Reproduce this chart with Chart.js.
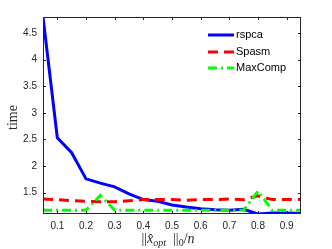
<!DOCTYPE html>
<html>
<head>
<meta charset="utf-8">
<script src="https://cdn.jsdelivr.net/npm/chart.js@4"></script>
<style>
  html, body { margin: 0; padding: 0; background: #fff; }
  #wrap { width: 332px; height: 249px; }
</style>
</head>
<body>
<div id="wrap"><canvas id="chart" width="332" height="249"></canvas></div>
<script>
const sparsity = [0.05, 0.1, 0.15, 0.2, 0.25, 0.3, 0.35, 0.4, 0.45, 0.5, 0.55, 0.6, 0.65, 0.7, 0.75, 0.8, 0.85, 0.9, 0.95];
const rspca   = [4.8, 2.53, 2.25, 1.76, 1.68, 1.61, 1.48, 1.37, 1.34, 1.27, 1.23, 1.2, 1.18, 1.17, 1.19, 1.1, 1.12, 1.12, 1.11];
const spasm   = [1.38, 1.37, 1.35, 1.34, 1.33, 1.33, 1.35, 1.37, 1.37, 1.37, 1.36, 1.37, 1.37, 1.38, 1.37, 1.44, 1.37, 1.37, 1.37];
const maxComp = [1.17, 1.17, 1.17, 1.17, 1.45, 1.17, 1.17, 1.17, 1.17, 1.17, 1.17, 1.17, 1.17, 1.17, 1.17, 1.53, 1.17, 1.17, 1.17];
const xTicks = [0.1, 0.2, 0.3, 0.4, 0.5, 0.6, 0.7, 0.8, 0.9];
const yTicks = [1.5, 2, 2.5, 3, 3.5, 4, 4.5];

const axisColor = '#262626';

// box + inward tick marks, MATLAB style
const boxPlugin = {
    id: 'boxPlugin',
    afterDraw: (chart) => {
        const { ctx, chartArea: { top, bottom, left, right }, scales: { x, y } } = chart;
        ctx.save();
        ctx.strokeStyle = axisColor;
        ctx.lineWidth = 1;
        ctx.strokeRect(left + 0.5, top + 0.5, right - left - 1, bottom - top - 1);
        ctx.beginPath();
        xTicks.forEach(v => {
            const px = Math.round(x.getPixelForValue(v)) + 0.5;
            ctx.moveTo(px, bottom); ctx.lineTo(px, bottom - 3);
            ctx.moveTo(px, top); ctx.lineTo(px, top + 3);
        });
        yTicks.forEach(v => {
            const py = Math.round(y.getPixelForValue(v)) + 0.5;
            ctx.moveTo(left, py); ctx.lineTo(left + 3, py);
            ctx.moveTo(right, py); ctx.lineTo(right - 3, py);
        });
        ctx.stroke();

        // y title
        ctx.fillStyle = axisColor;
        ctx.font = '14px "Liberation Serif", "DejaVu Serif", serif';
        ctx.textAlign = 'center';
        ctx.textBaseline = 'middle';
        ctx.translate(13, (top + bottom) / 2 + 2);
        ctx.rotate(-Math.PI / 2);
        ctx.fillText('time', 0, 0);
        ctx.restore();

        // x title: ||x̂_opt||_0 / n
        ctx.save();
        ctx.fillStyle = axisColor;
        ctx.textBaseline = 'alphabetic';
        ctx.textAlign = 'left';
        const big = '14px "Liberation Serif", "DejaVu Serif", serif';
        const bigIt = 'italic 14px "Liberation Serif", "DejaVu Serif", serif';
        const small = 'italic 10px "Liberation Serif", "DejaVu Serif", serif';
        const smallR = '10px "Liberation Serif", "DejaVu Serif", serif';
        const parts = [
            [big, '||', 0], [bigIt, 'x\u0302', 0], [small, 'opt', 3], [big, '  ||', 0],
            [smallR, '0', 3], [big, '/', 0], [bigIt, 'n', 0]
        ];
        let w = 0;
        parts.forEach(p => { ctx.font = p[0]; w += ctx.measureText(p[1]).width; });
        let cx = (left + right) / 2 - w / 2 - 4;
        const base = 243;
        parts.forEach(p => {
            ctx.font = p[0];
            ctx.fillText(p[1], cx, base + p[2]);
            cx += ctx.measureText(p[1]).width;
        });
        ctx.restore();
    }
};

// legend inside the axes, top right
const legendPlugin = {
    id: 'legendPlugin',
    afterDatasetsDraw: (chart) => {
        const { ctx } = chart;
        const rows = [35, 52, 68];
        ctx.save();
        ctx.font = '11px "Liberation Sans", Arial, sans-serif';
        ctx.textBaseline = 'middle';
        ctx.fillStyle = '#000';
        chart.data.datasets.forEach((ds, i) => {
            const yy = rows[i];
            ctx.strokeStyle = ds.borderColor;
            ctx.lineWidth = 3;
            ctx.setLineDash(ds.borderDash || []);
            ctx.beginPath();
            ctx.moveTo(208, yy);
            ctx.lineTo(234, yy);
            ctx.stroke();
            ctx.setLineDash([]);
            ctx.fillText(ds.label, 236, yy);
        });
        ctx.restore();
    }
};

new Chart(document.getElementById('chart').getContext('2d'), {
    type: 'line',
    plugins: [boxPlugin, legendPlugin],
    data: {
        datasets: [
            { label: 'rspca', order: 3, data: sparsity.map((s, i) => ({ x: s, y: rspca[i] })), borderColor: '#0000ff', borderWidth: 3 },
            { label: 'Spasm', order: 2, data: sparsity.map((s, i) => ({ x: s, y: spasm[i] })), borderColor: '#ff0000', borderWidth: 3, borderDash: [10, 6] },
            { label: 'MaxComp', order: 1, data: sparsity.map((s, i) => ({ x: s, y: maxComp[i] })), borderColor: '#00ff00', borderWidth: 3, borderDash: [9, 4, 2, 4] }
        ]
    },
    options: {
        responsive: false,
        animation: false,
        devicePixelRatio: 1,
        elements: { point: { radius: 0 }, line: { tension: 0, borderCapStyle: 'butt' } },
        layout: { padding: { left: 0, right: 31, top: 17, bottom: 0 } },
        plugins: { legend: { display: false }, tooltip: { enabled: false } },
        scales: {
            x: {
                type: 'linear', min: 0.05, max: 0.95,
                grid: { display: false, drawTicks: false },
                border: { display: false },
                afterBuildTicks: (s) => { s.ticks = xTicks.map(v => ({ value: v })); },
                afterFit: (s) => { s.height = 35; },
                ticks: { color: axisColor, padding: 6, font: { size: 10, family: '"Liberation Sans", Arial, sans-serif' }, maxRotation: 0, callback: v => String(v) }
            },
            y: {
                type: 'linear', min: 1.1, max: 4.8,
                grid: { display: false, drawTicks: false },
                border: { display: false },
                afterBuildTicks: (s) => { s.ticks = yTicks.map(v => ({ value: v })); },
                afterFit: (s) => { s.width = 43; },
                ticks: { color: axisColor, padding: 6, font: { size: 10, family: '"Liberation Sans", Arial, sans-serif' }, callback: v => String(v) }
            }
        }
    }
});
</script>
</body>
</html>
